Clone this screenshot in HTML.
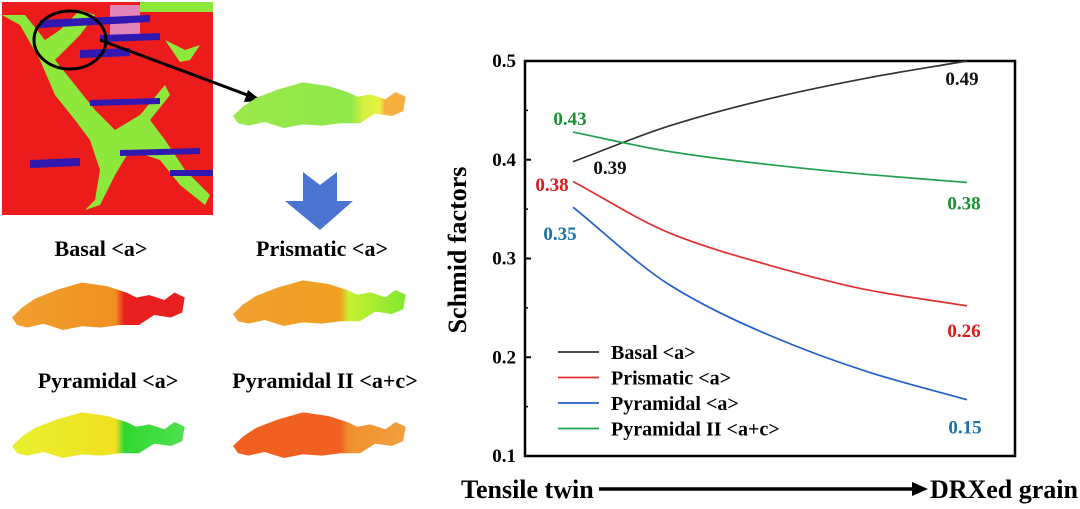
<!DOCTYPE html>
<html><head><meta charset="utf-8"><style>
body{margin:0;background:#fff;width:1080px;height:504px;overflow:hidden}
svg text{font-family:"Liberation Serif",serif;font-weight:bold}
</style></head><body>
<svg width="1080" height="504" xmlns="http://www.w3.org/2000/svg">
<defs>
<linearGradient id="g1" x1="0" x2="1"><stop offset="0" stop-color="#9be84a"/><stop offset="0.68" stop-color="#8ee84a"/><stop offset="0.76" stop-color="#d8f040"/><stop offset="0.85" stop-color="#e8f040"/><stop offset="0.88" stop-color="#f5b040"/><stop offset="1" stop-color="#f5b040"/></linearGradient>
<linearGradient id="g2" x1="0" x2="1"><stop offset="0" stop-color="#f0a030"/><stop offset="0.6" stop-color="#f09020"/><stop offset="0.65" stop-color="#e82020"/><stop offset="1" stop-color="#e82020"/></linearGradient>
<linearGradient id="g3" x1="0" x2="1"><stop offset="0" stop-color="#f0a030"/><stop offset="0.62" stop-color="#f0a020"/><stop offset="0.67" stop-color="#c8f030"/><stop offset="1" stop-color="#80e830"/></linearGradient>
<linearGradient id="g4" x1="0" x2="1"><stop offset="0" stop-color="#e8f030"/><stop offset="0.6" stop-color="#f0e020"/><stop offset="0.65" stop-color="#30d830"/><stop offset="1" stop-color="#50e050"/></linearGradient>
<linearGradient id="g5" x1="0" x2="1"><stop offset="0" stop-color="#f06020"/><stop offset="0.62" stop-color="#f06020"/><stop offset="0.67" stop-color="#f09030"/><stop offset="1" stop-color="#f0a040"/></linearGradient>
<path id="blob" d="M0,30 L8,22 L18,15 L35,8 L55,2 L75,5 L90,10 L98,14 L108,12 L120,16 L128,10 L136,14 L134,26 L125,30 L112,28 L100,36 L85,36 L70,38 L55,37 L40,40 L25,35 L12,38 L4,36 Z"/>
</defs>
<g>
<rect x="2" y="2" width="211" height="213" fill="#ec1c1c"/>
<path d="M2,15 L20,25 L40,60 L55,95 L75,120 L90,140 L100,170 L95,200 L85,210 L100,205 L115,175 L130,150 L160,160 L180,185 L205,205 L210,195 L185,170 L165,140 L150,120 L170,95 L165,85 L140,115 L115,130 L95,110 L75,85 L55,60 L80,35 L95,15 L80,10 L60,30 L45,40 L25,15 Z" fill="#8ee83c"/>
<path d="M165,40 L185,50 L200,45 L190,60 L180,62 Z" fill="#8ee83c"/>
<rect x="110" y="5" width="30" height="35" fill="#e0a0e0" opacity="0.8"/>
<rect x="140" y="2" width="73" height="10" fill="#8ee83c"/>
<path d="M40,20 L150,15 L150,22 L40,28Z M100,35 L160,33 L160,40 L100,42Z M80,50 L130,48 L130,56 L80,58Z M90,100 L160,98 L160,104 L90,106Z M30,160 L80,158 L80,166 L30,168Z M120,150 L200,148 L200,154 L120,156Z M170,170 L213,170 L213,176 L170,176Z" fill="#3018b0"/>
<ellipse cx="70" cy="40" rx="36" ry="29" fill="none" stroke="#000" stroke-width="3"/>
<line x1="100" y1="40" x2="258" y2="99" stroke="#000" stroke-width="3"/>
<polygon points="262,101 248,90 244,102" fill="#000"/>
</g>
<use href="#blob" transform="translate(233,80) scale(1.27,1.2)" fill="url(#g1)"/>
<polygon points="303,172 320,185 337,172 337,201 353,201 320,230 285,201 303,201" fill="#4a74d0"/>
<text x="101" y="256" font-size="22" text-anchor="middle">Basal &lt;a&gt;</text>
<text x="322" y="256" font-size="22" text-anchor="middle">Prismatic &lt;a&gt;</text>
<text x="108" y="388" font-size="22" text-anchor="middle">Pyramidal &lt;a&gt;</text>
<text x="325" y="388" font-size="22" text-anchor="middle">Pyramidal II &lt;a+c&gt;</text>
<use href="#blob" transform="translate(12,280) scale(1.27,1.25)" fill="url(#g2)"/>
<use href="#blob" transform="translate(233,278) scale(1.27,1.2)" fill="url(#g3)"/>
<use href="#blob" transform="translate(12,410) scale(1.27,1.2)" fill="url(#g4)"/>
<use href="#blob" transform="translate(233,410) scale(1.27,1.2)" fill="url(#g5)"/>
<g id="chart"></g>
</svg>
<script>
const categories=['Tensile twin','DRXed grain'];
const pos=[0,0.25,0.5,0.75,1];
const seriesNames=['Basal <a>','Prismatic <a>','Pyramidal <a>','Pyramidal II <a+c>'];
const basal=[0.398,0.435,0.462,0.483,0.500];
const prismatic=[0.378,0.325,0.293,0.268,0.252];
const pyramidal=[0.352,0.272,0.222,0.185,0.157];
const pyramidal2=[0.428,0.408,0.395,0.385,0.377];
const yTicks=[0.1,0.2,0.3,0.4,0.5];
const startLabels=['0.39','0.38','0.35','0.43'];
const endLabels=['0.49','0.26','0.15','0.38'];
const NS='http://www.w3.org/2000/svg';
const g=document.getElementById('chart');
const X0=525,X1=1015,Y0=456,Y1=61,CX0=573,CX1=967;
const y=v=>Y0-(v-0.1)/0.4*(Y0-Y1);
const x=p=>CX0+p*(CX1-CX0);
function mk(t,a){const e=document.createElementNS(NS,t);for(const k in a)e.setAttribute(k,a[k]);g.appendChild(e);return e;}
const frame=mk('rect',{x:X0,y:Y1,width:X1-X0,height:Y0-Y1,fill:'none',stroke:'#000','stroke-width':2.5});


yTicks.forEach(v=>{
  const t=mk('line',{x1:X0,x2:X0+6,y1:y(v),y2:y(v),stroke:'#000','stroke-width':2});
  
  
  if(v<0.5){const m=mk('line',{x1:X0,x2:X0+3,y1:y(v+0.05),y2:y(v+0.05),stroke:'#000','stroke-width':1.5});
  
  }
  const l=mk('text',{x:X0-9,y:y(v)+6,'text-anchor':'end','font-size':19});
  l.textContent=v.toFixed(1);
  
  
});
const yt=mk('text',{x:0,y:0,'font-size':26,'text-anchor':'middle',transform:'translate(466,250) rotate(-90)'});
yt.textContent='Schmid factors';


const colors=['#333333','#e03030','#2060c8','#20a050'];
const lblColors=['#111111','#e01818','#1a70a8','#1a9030'];
const all=[basal,prismatic,pyramidal,pyramidal2];
function path(vals){
  const P=vals.map((v,i)=>[x(pos[i]),y(v)]);
  const n=P.length,d=[],m=[];
  for(let i=0;i<n-1;i++)d.push((P[i+1][1]-P[i][1])/(P[i+1][0]-P[i][0]));
  m[0]=d[0];m[n-1]=d[n-2];
  for(let i=1;i<n-1;i++)m[i]=d[i-1]*d[i]<=0?0:2/(1/d[i-1]+1/d[i]);
  let s='M'+P[0][0]+','+P[0][1];
  for(let i=0;i<n-1;i++){const h=(P[i+1][0]-P[i][0])/3;
    s+=' C'+(P[i][0]+h)+','+(P[i][1]+m[i]*h)+' '+(P[i+1][0]-h)+','+(P[i+1][1]-m[i+1]*h)+' '+P[i+1][0]+','+P[i+1][1];}
  return s;
}
const sPos=[[610,174],[552,191],[560,240],[570,125]];
const eOff=[[-5,24],[-3,31],[-2,34],[-3,27]];
all.forEach((vals,i)=>{
  const p=mk('path',{d:path(vals),fill:'none',stroke:colors[i],'stroke-width':1.7});
  
  
  const a=mk('text',{x:sPos[i][0],y:sPos[i][1],'font-size':19,'text-anchor':'middle',fill:lblColors[i]});
  a.textContent=startLabels[i];
  
  
  const b=mk('text',{x:x(1)+eOff[i][0],y:y(vals[4])+eOff[i][1],'font-size':19,'text-anchor':'middle',fill:lblColors[i]});
  b.textContent=endLabels[i];
  
  
  const ly=352+i*25.5;
  const ll=mk('line',{x1:558,x2:599,y1:ly,y2:ly,stroke:colors[i],'stroke-width':1.7});
  
  
  const lt=mk('text',{x:611,y:ly+7,'font-size':20});
  lt.textContent=seriesNames[i];
  
  
});
const c0=mk('text',{x:461,y:498,'font-size':26});
c0.textContent=categories[0];


const ar=mk('line',{x1:599,y1:489,x2:915,y2:489,stroke:'#000','stroke-width':3.5});


const ah=mk('polygon',{points:'928,489 912,482 912,496',fill:'#000'});


const c1=mk('text',{x:1078,y:498,'font-size':26,'text-anchor':'end'});
c1.textContent=categories[1];


</script>
</body></html>
